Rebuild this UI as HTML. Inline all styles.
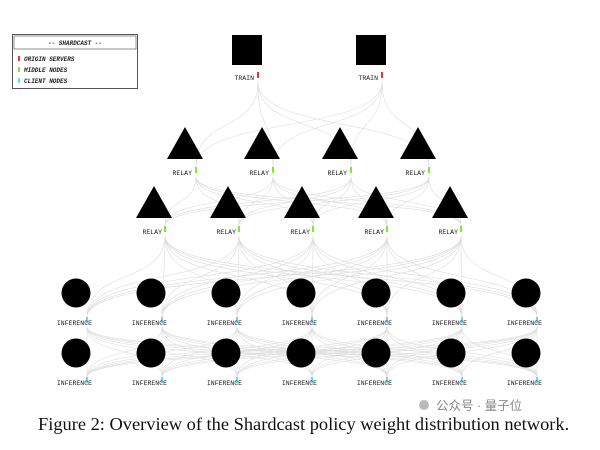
<!DOCTYPE html>
<html><head><meta charset="utf-8"><style>
html,body{margin:0;padding:0;background:#fff;width:600px;height:450px;overflow:hidden}
svg{display:block}
.l{font-family:"Liberation Mono",monospace;font-size:6.5px;fill:#222;text-anchor:end}
.lg{font-family:"Liberation Mono",monospace;font-size:6px;font-style:italic;font-weight:bold;fill:#222}
.cap{font-family:"Liberation Serif",serif;font-size:18.4px;fill:#111}
.wm{font-family:"Liberation Sans","Noto Sans CJK SC",sans-serif;font-size:12.5px;fill:#888}
</style></head><body>
<svg id="s" width="600" height="450" viewBox="0 0 600 450">
<g id="edges" fill="none" stroke="#dcdcdc" stroke-width="0.6"></g>
<rect x="12.5" y="34.5" width="125" height="54" fill="#fff" stroke="#555" stroke-width="1"/>
<rect x="14" y="36" width="122" height="13" fill="#fff" stroke="#777" stroke-width="0.8"/>
<text class="lg" x="75" y="45" text-anchor="middle">-- SHARDCAST --</text>
<rect x="18" y="56" width="2" height="5" fill="#e33"/><text class="lg" x="24" y="61">ORIGIN SERVERS</text>
<rect x="18" y="67" width="2" height="5" fill="#7e3"/><text class="lg" x="24" y="72">MIDDLE NODES</text>
<rect x="18" y="78" width="2" height="5" fill="#6de"/><text class="lg" x="24" y="83">CLIENT NODES</text>
<g id="nodes"></g>
<g>
<text class="l" x="254" y="80">TRAIN</text><text class="l" x="378" y="80">TRAIN</text>
<text class="l" x="192" y="175">RELAY</text><text class="l" x="269" y="175">RELAY</text><text class="l" x="347" y="175">RELAY</text><text class="l" x="425" y="175">RELAY</text>
<text class="l" x="162" y="234">RELAY</text><text class="l" x="236" y="234">RELAY</text><text class="l" x="310" y="234">RELAY</text><text class="l" x="384" y="234">RELAY</text><text class="l" x="458" y="234">RELAY</text>
<text class="l" x="92" y="325">INFERENCE</text><text class="l" x="167" y="325">INFERENCE</text><text class="l" x="242" y="325">INFERENCE</text><text class="l" x="317" y="325">INFERENCE</text><text class="l" x="392" y="325">INFERENCE</text><text class="l" x="467" y="325">INFERENCE</text><text class="l" x="542" y="325">INFERENCE</text>
<text class="l" x="92" y="385">INFERENCE</text><text class="l" x="167" y="385">INFERENCE</text><text class="l" x="242" y="385">INFERENCE</text><text class="l" x="317" y="385">INFERENCE</text><text class="l" x="392" y="385">INFERENCE</text><text class="l" x="467" y="385">INFERENCE</text><text class="l" x="542" y="385">INFERENCE</text>
</g>
<circle cx="424" cy="405" r="5" fill="#bbb"/>
<text class="wm" x="436" y="410">公众号 · 量子位</text>
<text class="cap" x="38" y="430">Figure 2: Overview of the Shardcast policy weight distribution network.</text>
</svg>
<script>
var NS="http://www.w3.org/2000/svg";
var E=document.getElementById("edges"),N=document.getElementById("nodes");
function el(t,a,p){var e=document.createElementNS(NS,t);for(var k in a)e.setAttribute(k,a[k]);p.appendChild(e);return e;}
var L=[
 {xs:[247,371],ly:78,type:"sq",col:"#e33"},
 {xs:[185,262,340,418],ly:173,type:"tri",ty:[127,159],col:"#7e3"},
 {xs:[154,228,302,376,450],ly:232,type:"tri",ty:[186,218],col:"#7e3"},
 {xs:[76,151,226,301,376,451,526],ly:323,type:"c",cy:293,col:"#6de"},
 {xs:[76,151,226,301,376,451,526],ly:383,type:"c",cy:353,col:"#6de"}
];
for(var i=0;i<L.length-1;i++){var a=L[i],b=L[i+1];
 a.xs.forEach(function(x1){b.xs.forEach(function(x2){
  var sx=x1+11,sy=a.ly+4,tx=x2+11,ty=b.ly-6,m=(ty-sy)*0.6;
  el("path",{d:"M"+sx+" "+sy+" C"+sx+" "+(sy+m)+" "+tx+" "+(ty-m)+" "+tx+" "+ty},E);
 });});}
L.forEach(function(l){l.xs.forEach(function(x){
 if(l.type=="sq")el("rect",{x:x-15,y:35,width:30,height:30,fill:"#000"},N);
 if(l.type=="tri")el("polygon",{points:x+","+l.ty[0]+" "+(x-18)+","+l.ty[1]+" "+(x+18)+","+l.ty[1],fill:"#000"},N);
 if(l.type=="c")el("circle",{cx:x,cy:l.cy,r:14.5,fill:"#000"},N);
 el("rect",{x:x+10,y:l.ly-6,width:2,height:6,fill:l.col},N);
});});
</script>
</body></html>
